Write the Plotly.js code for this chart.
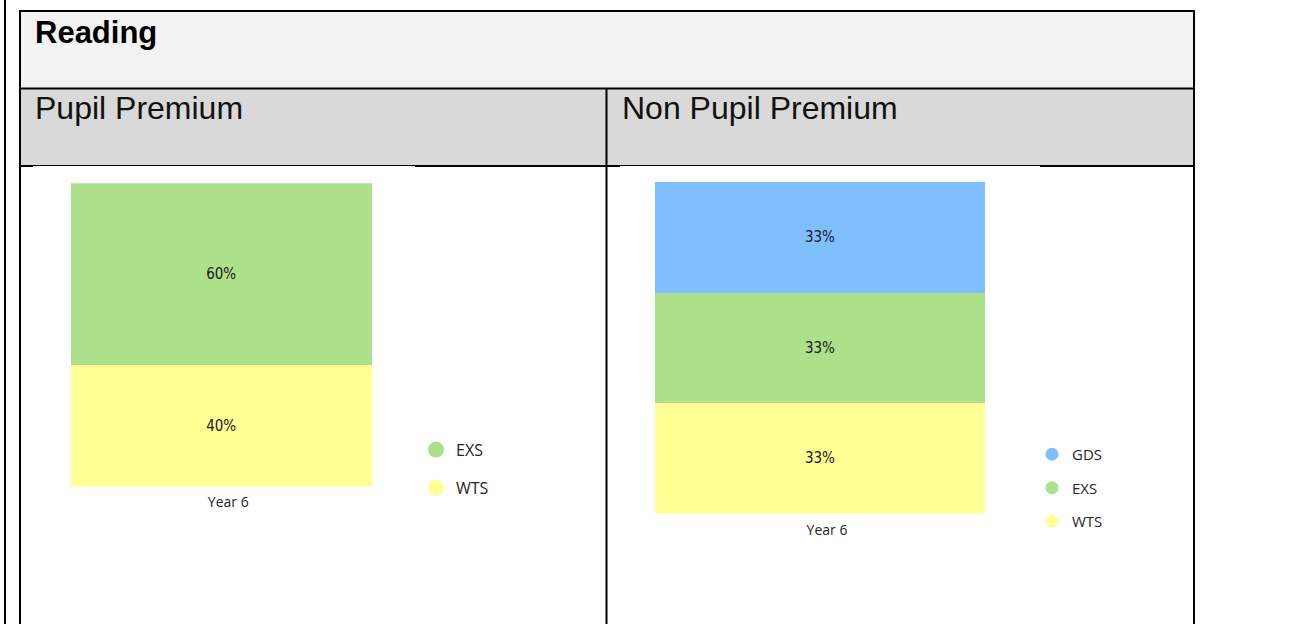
<!DOCTYPE html>
<html>
<head>
<meta charset="utf-8">
<script src="https://cdn.plot.ly/plotly-3.0.1.min.js"></script>
<style>
  html, body { margin: 0; padding: 0; background: #ffffff; }
  #chart { width: 1299px; height: 624px; }
</style>
</head>
<body>
<div id="chart"></div>
<script>
// ---- data ----
const sectionTitle = "Reading";
const groupTitles = ["Pupil Premium", "Non Pupil Premium"];
const categories = ["Year 6"];

const ppSeries = ["WTS", "EXS"];
const ppValues = [[40], [60]];

const nonPpSeries = ["WTS", "EXS", "GDS"];
const nonPpValues = [[33], [33], [33]];

const seriesColors = { GDS: "#80bfff", EXS: "#ade08a", WTS: "#ffff94" };

// ---- layout helpers ----
const W = 1299, H = 624;
const px = x => x / W;
const py = y => 1 - y / H;

const textDark = "#252423";
const uiFont = "Segoe UI, Open Sans, Noto Sans, sans-serif";
const barFont = "DejaVu Sans Condensed, DejaVu Sans, sans-serif";

function sumStack(vals) {
  return categories.map((_, i) => vals.reduce((s, v) => s + v[i], 0));
}

const traces = [];

function addBars(names, vals, xa, ya) {
  names.forEach((n, k) => {
    traces.push({
      type: "bar",
      x: categories,
      y: vals[k],
      name: n,
      xaxis: xa, yaxis: ya,
      marker: { color: seriesColors[n], line: { width: 0 } },
      width: 1,
      texttemplate: "%{y}%",
      textposition: "inside",
      insidetextanchor: "middle",
      textangle: 0,
      textfont: { family: barFont, size: 15, color: "#1a1a1a" },
      showlegend: false,
      hoverinfo: "skip"
    });
  });
}

function addLegend(names, xa, ya, legendId, size) {
  names.slice().reverse().forEach(n => {
    traces.push({
      type: "scatter",
      mode: "markers",
      x: [null], y: [null],
      xaxis: xa, yaxis: ya,
      name: n,
      legend: legendId,
      legendgroup: legendId + n,
      marker: { color: seriesColors[n], size: size, symbol: "circle" },
      hoverinfo: "skip"
    });
  });
}

addBars(ppSeries, ppValues, "x", "y");
addBars(nonPpSeries, nonPpValues, "x2", "y2");
addLegend(ppSeries, "x", "y", "legend", 16);
addLegend(nonPpSeries, "x2", "y2", "legend2", 13);

const ppMax = Math.max(...sumStack(ppValues));
const nonPpMax = Math.max(...sumStack(nonPpValues));

const xaxisBase = {
  type: "category",
  range: [-0.5, 0.5],
  showgrid: false, zeroline: false, showline: false,
  ticks: "",
  ticklabelstandoff: 5,
  ticklabelshift: 7,
  tickfont: { family: uiFont, size: 14, color: textDark },
  fixedrange: true
};
const yaxisBase = { visible: false, showgrid: false, zeroline: false, fixedrange: true };

const black = "#000000";
const shapes = [
  // header backgrounds
  { type: "rect", xref: "paper", yref: "paper", x0: px(20), x1: px(1194), y0: py(11), y1: py(88.5), fillcolor: "#f2f2f2", line: { width: 0 }, layer: "below" },
  { type: "rect", xref: "paper", yref: "paper", x0: px(20), x1: px(1194), y0: py(88.5), y1: py(166), fillcolor: "#d9d9d9", line: { width: 0 }, layer: "below" },
  // page left line
  { type: "line", xref: "paper", yref: "paper", x0: px(5), x1: px(5), y0: py(0), y1: py(624), line: { color: black, width: 2 } },
  // outer borders
  { type: "line", xref: "paper", yref: "paper", x0: px(19), x1: px(1195), y0: py(11), y1: py(11), line: { color: black, width: 2 } },
  { type: "line", xref: "paper", yref: "paper", x0: px(20), x1: px(20), y0: py(10), y1: py(624), line: { color: black, width: 2 } },
  { type: "line", xref: "paper", yref: "paper", x0: px(1194), x1: px(1194), y0: py(10), y1: py(624), line: { color: black, width: 2 } },
  { type: "line", xref: "paper", yref: "paper", x0: px(20), x1: px(1194), y0: py(88.5), y1: py(88.5), line: { color: black, width: 2 } },
  { type: "line", xref: "paper", yref: "paper", x0: px(606.5), x1: px(606.5), y0: py(88.5), y1: py(624), line: { color: black, width: 2 } },
  // row-2 bottom line: thick ends, thin middle
  { type: "line", xref: "paper", yref: "paper", x0: px(20), x1: px(33), y0: py(166), y1: py(166), line: { color: black, width: 2 } },
  { type: "line", xref: "paper", yref: "paper", x0: px(33), x1: px(415), y0: py(165.5), y1: py(165.5), line: { color: black, width: 1 } },
  { type: "line", xref: "paper", yref: "paper", x0: px(415), x1: px(620), y0: py(166), y1: py(166), line: { color: black, width: 2 } },
  { type: "line", xref: "paper", yref: "paper", x0: px(620), x1: px(1040), y0: py(165.5), y1: py(165.5), line: { color: black, width: 1 } },
  { type: "line", xref: "paper", yref: "paper", x0: px(1040), x1: px(1194), y0: py(166), y1: py(166), line: { color: black, width: 2 } }
];

const annotations = [
  { xref: "paper", yref: "paper", x: px(33), y: py(32.5), xanchor: "left", yanchor: "middle", showarrow: false,
    text: "<b>" + sectionTitle + "</b>", font: { family: "Liberation Sans, Arial, sans-serif", size: 31, color: "#000" } },
  { xref: "paper", yref: "paper", x: px(33), y: py(108.3), xanchor: "left", yanchor: "middle", showarrow: false,
    text: groupTitles[0], font: { family: "Liberation Sans, Arial, sans-serif", size: 32, color: "#111" } },
  { xref: "paper", yref: "paper", x: px(620), y: py(108.3), xanchor: "left", yanchor: "middle", showarrow: false,
    text: groupTitles[1], font: { family: "Liberation Sans, Arial, sans-serif", size: 32, color: "#111" } }
];

const layout = {
  width: W, height: H,
  margin: { l: 0, r: 0, t: 0, b: 0 },
  paper_bgcolor: "#ffffff",
  plot_bgcolor: "rgba(0,0,0,0)",
  barmode: "stack",
  bargap: 0,
  showlegend: true,
  xaxis: Object.assign({}, xaxisBase, { domain: [px(70.5), px(372)], anchor: "y" }),
  yaxis: Object.assign({}, yaxisBase, { domain: [py(486.5), py(183.3)], range: [0, ppMax], anchor: "x" }),
  xaxis2: Object.assign({}, xaxisBase, { domain: [px(655), px(985)], anchor: "y2", ticklabelstandoff: 6 }),
  yaxis2: Object.assign({}, yaxisBase, { domain: [py(513.5), py(182)], range: [0, nonPpMax], anchor: "x2" }),
  legend: {
    x: px(416), y: py(468.7), xanchor: "left", yanchor: "middle",
    traceorder: "grouped", tracegroupgap: 14,
    font: { family: uiFont, size: 16, color: textDark },
    bgcolor: "rgba(0,0,0,0)", borderwidth: 0
  },
  legend2: {
    x: px(1032), y: py(488), xanchor: "left", yanchor: "middle",
    traceorder: "grouped", tracegroupgap: 11,
    font: { family: uiFont, size: 15, color: textDark },
    bgcolor: "rgba(0,0,0,0)", borderwidth: 0
  },
  shapes: shapes,
  annotations: annotations
};

Plotly.newPlot("chart", traces, layout, { displayModeBar: false, staticPlot: true });
</script>
</body>
</html>
